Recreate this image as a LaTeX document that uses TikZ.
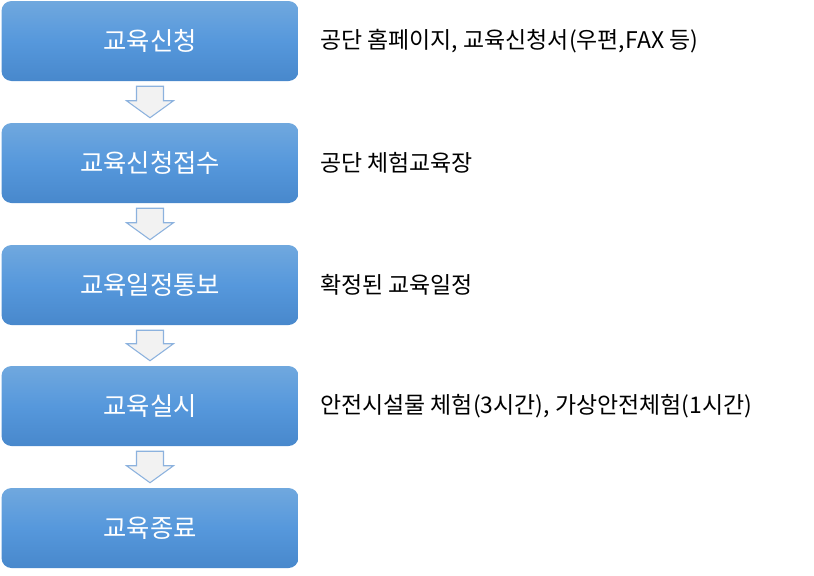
\documentclass[tikz,border=0pt]{standalone}
\usepackage{fontspec}
\usepackage{xcolor}
\usepackage{tikz}
\usetikzlibrary{calc}
\newfontfamily\kr{Noto Sans CJK KR}

\definecolor{boxtop}{RGB}{112,168,222}
\definecolor{boxmid}{RGB}{86,152,220}
\definecolor{boxbot}{RGB}{72,136,204}
\definecolor{arrline}{RGB}{140,178,222}
\definecolor{arrfill}{RGB}{242,242,242}

% block arrow from one box down to the next
\newcommand{\flowarrow}[2]{%
  \draw [flowarr] ($(#1.south)+(-13.5,5)$) -- ($(#1.south)+(13.5,5)$)
    -- ($(#2.north)+(13.5,-22)$) -- ($(#2.north)+(23.5,-22)$)
    -- ($(#2.north)+(0,-5)$) -- ($(#2.north)+(-23.5,-22)$)
    -- ($(#2.north)+(-13.5,-22)$) -- cycle;}

\begin{document}
\begin{tikzpicture}[x=0.75pt,y=-0.75pt]
                \tikzset{
                  stepbox/.style={rounded corners=7.5pt, minimum width=222.75pt,
                    minimum height=60pt, top color=boxtop, bottom color=boxbot,
                    middle color=boxmid, text=white, font=\kr\fontsize{19}{22}\selectfont},
                  note/.style={anchor=west, inner sep=0pt, text=black,
                    font=\kr\fontsize{17.2}{20}\selectfont},
                  flowarr/.style={draw=arrline, fill=arrfill, line width=0.8pt, line join=miter}
                }
                \useasboundingbox (0,0) rectangle (814,575);
                \node [stepbox] (s1) at (150,41) {교육신청};
                \node [stepbox] (s2) at (150,163) {교육신청접수};
                \node [stepbox] (s3) at (150,285) {교육일정통보};
                \node [stepbox] (s4) at (150,406) {교육실시};
                \node [stepbox] (s5) at (150,528) {교육종료};
                \node [note] (n1) at (320,41) {공단 홈페이지, 교육신청서(우편,FAX 등)};
                \node [note] (n2) at (320,163) {공단 체험교육장};
                \node [note] (n3) at (320,285) {확정된 교육일정};
                \node [note] (n4) at (320,406) {안전시설물 체험(3시간), 가상안전체험(1시간)};
                \flowarrow{s1}{s2}
                \flowarrow{s2}{s3}
                \flowarrow{s3}{s4}
                \flowarrow{s4}{s5}
\end{tikzpicture}
\end{document}
